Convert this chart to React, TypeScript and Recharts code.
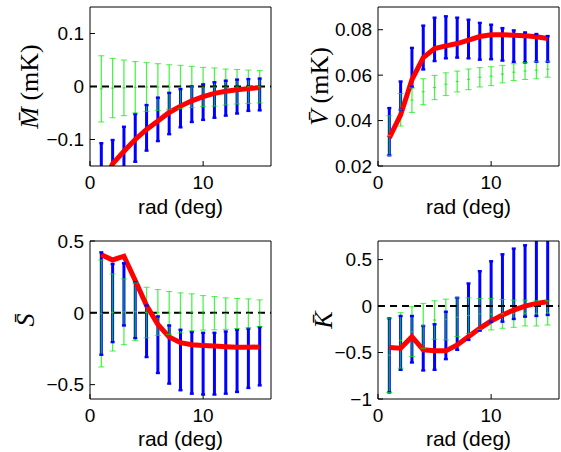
import React from "react";
import { ComposedChart, Line, XAxis, YAxis, ReferenceLine } from "recharts";

const rad = [1, 2, 3, 4, 5, 6, 7, 8, 9, 10, 11, 12, 13, 14, 15];
const xTicks = [0, 10];

// M (mK)
const mMean = [-0.19, -0.146, -0.122, -0.1, -0.081, -0.065, -0.049, -0.037, -0.027, -0.019, -0.013, -0.009, -0.006, -0.004, -0.002];
const mBlueHi = [-0.107, -0.101, -0.076, -0.052, -0.035, -0.021, -0.012, -0.005, 0.0, 0.004, 0.008, 0.011, 0.013, 0.014, 0.015];
const mBlueLo = [-0.2, -0.19, -0.16, -0.142, -0.121, -0.103, -0.09, -0.077, -0.067, -0.063, -0.059, -0.055, -0.051, -0.046, -0.045];
const mGreenHi = [0.058, 0.053, 0.05, 0.047, 0.045, 0.043, 0.041, 0.04, 0.038, 0.036, 0.035, 0.033, 0.032, 0.031, 0.03];
const mGreenLo = [-0.067, -0.059, -0.055, -0.05, -0.047, -0.045, -0.043, -0.042, -0.04, -0.038, -0.037, -0.035, -0.033, -0.032, -0.031];

// V (mK)
const vMean = [0.0324, 0.0425, 0.058, 0.0677, 0.0717, 0.0729, 0.0739, 0.0754, 0.077, 0.0778, 0.0778, 0.0776, 0.0773, 0.0769, 0.0761];
const vBlueHi = [0.0455, 0.0572, 0.072, 0.0818, 0.0853, 0.0859, 0.0853, 0.0844, 0.083, 0.0822, 0.0807, 0.0797, 0.0788, 0.0781, 0.0772];
const vBlueLo = [0.0247, 0.0447, 0.0548, 0.0625, 0.0662, 0.0674, 0.0677, 0.0674, 0.0668, 0.067, 0.0664, 0.0658, 0.0656, 0.0659, 0.0659];
const vGreenHi = [0.0421, 0.0519, 0.0544, 0.0584, 0.0599, 0.061, 0.0618, 0.0627, 0.0633, 0.0637, 0.0643, 0.065, 0.0655, 0.0659, 0.0661];
const vGreenLo = [0.0247, 0.0376, 0.0436, 0.047, 0.0492, 0.051, 0.0526, 0.0536, 0.0548, 0.0554, 0.0566, 0.0576, 0.0581, 0.0584, 0.0591];

// S
const sMean = [0.405, 0.368, 0.394, 0.225, 0.051, -0.081, -0.169, -0.208, -0.222, -0.227, -0.231, -0.236, -0.24, -0.24, -0.238];
const sBlueHi = [0.421, 0.34, 0.345, 0.213, 0.051, -0.025, -0.088, -0.118, -0.134, -0.139, -0.139, -0.13, -0.118, -0.111, -0.1];
const sBlueLo = [-0.292, -0.204, -0.088, -0.176, -0.308, -0.419, -0.493, -0.539, -0.563, -0.569, -0.569, -0.563, -0.551, -0.523, -0.505];
const sGreenHi = [0.368, 0.271, 0.236, 0.208, 0.178, 0.162, 0.148, 0.139, 0.132, 0.12, 0.113, 0.104, 0.1, 0.097, 0.09];
const sGreenLo = [-0.377, -0.266, -0.222, -0.192, -0.174, -0.157, -0.15, -0.14, -0.125, -0.12, -0.118, -0.115, -0.11, -0.105, -0.095];

// K
const kMean = [-0.446, -0.454, -0.329, -0.471, -0.482, -0.482, -0.418, -0.329, -0.239, -0.161, -0.096, -0.043, 0, 0.029, 0.046];
const kBlueHi = [-0.132, -0.107, -0.107, -0.214, -0.196, -0.061, 0.089, 0.243, 0.375, 0.482, 0.557, 0.618, 0.654, 0.72, 0.75];
const kBlueLo = [-0.929, -0.686, -0.607, -0.693, -0.686, -0.571, -0.471, -0.364, -0.264, -0.168, -0.168, -0.139, -0.114, -0.107, -0.096];
const kGreenHi = [-0.13, -0.071, -0.007, 0.029, 0.057, 0.075, 0.089, 0.089, 0.082, 0.082, 0.071, 0.064, 0.064, 0.057, 0.057];
const kGreenLo = [-0.93, -0.668, -0.543, -0.454, -0.357, -0.364, -0.329, -0.293, -0.25, -0.257, -0.239, -0.229, -0.214, -0.214, -0.204];

const BLUE = "#0000ff";
const GREEN = "#00ee00";
const RED = "#ff0000";
const SANS = "Liberation Sans, Arial, Helvetica, sans-serif";
const SERIF = "Liberation Serif, Times New Roman, serif";

const tickStyle = { fill: "#000", fontSize: 19, fontFamily: SANS };

const fmt = (v: number) => (v === 0 ? "0" : (v < 0 ? "\u2212" : "") + String(Math.abs(v)));

const meanRows = (mean: number[]) => rad.map((x, i) => ({ x, y: mean[i] }));

type BarStyle = { color: string; width: number; cap: number; mid: number; opacity: number };
const blueStyle: BarStyle = { color: BLUE, width: 3, cap: 2, mid: 0, opacity: 1 };
const greenStyle: BarStyle = { color: GREEN, width: 1.3, cap: 3, mid: 1.5, opacity: 0.7 };

// one vertical segment per radius, caps drawn as dots (skipped when off the axis)
function errorBars(id: string, lo: number[], hi: number[], s: BarStyle, domain: [number, number]) {
  const capDot = (props: any) => {
    const { cx, cy, index, payload } = props;
    const half = index === 1 ? s.mid : s.cap;
    if (payload.y < domain[0] || payload.y > domain[1] || half <= 0 || cx == null) {
      return <g key={`c${index}`} />;
    }
    return (
      <line
        key={`c${index}`}
        x1={cx - half}
        x2={cx + half}
        y1={cy}
        y2={cy}
        stroke={s.color}
        strokeOpacity={s.opacity}
        strokeWidth={index === 1 ? 1.2 : s.width * 0.8}
      />
    );
  };
  return rad.map((x, i) => (
    <Line
      key={`${id}${x}`}
      data={[
        { x, y: lo[i] },
        { x, y: (lo[i] + hi[i]) / 2 },
        { x, y: hi[i] },
      ]}
      dataKey="y"
      stroke={s.color}
      strokeOpacity={s.opacity}
      strokeWidth={s.width}
      dot={capDot}
      activeDot={false}
      type="linear"
      isAnimationActive={false}
    />
  ));
}

type PanelProps = {
  left: number;
  top: number;
  width: number;
  height: number;
  yWidth: number;
  rightW: number;
  topH: number;
  bottomH: number;
  xLabelOffset: number;
  domain: [number, number];
  yTicks: number[];
  mean: number[];
  blueLo: number[];
  blueHi: number[];
  greenLo: number[];
  greenHi: number[];
  zero: boolean;
  labelX: number;
  symbol: string;
  unit?: string;
};

function Panel(p: PanelProps) {
  const plotH = p.height - p.topH - p.bottomH;
  const cy = p.topH + plotH / 2;
  const yLabel = () => (
    <text
      x={p.labelX}
      y={cy}
      transform={`rotate(-90 ${p.labelX} ${cy})`}
      textAnchor="middle"
      dominantBaseline="central"
      fontFamily={SERIF}
      fontSize={26}
      fill="#000"
    >
      <tspan fontStyle="italic">{p.symbol + "\u0304"}</tspan>
      {p.unit ? <tspan>{" " + p.unit}</tspan> : null}
    </text>
  );
  return (
    <ComposedChart
      width={p.width}
      height={p.height}
      margin={{ top: 0, right: 0, bottom: 0, left: 0 }}
      style={{ position: "absolute", left: p.left, top: p.top }}
    >
      <XAxis
        type="number"
        dataKey="x"
        domain={[0, 16]}
        ticks={xTicks}
        allowDataOverflow
        interval={0}
        height={p.bottomH}
        tickSize={-5}
        tickMargin={15}
        tick={tickStyle}
        stroke="#000"
        label={{ value: "rad (deg)", position: "insideBottom", offset: p.xLabelOffset, fill: "#000", fontSize: 21, fontFamily: SANS }}
      />
      <XAxis
        xAxisId="t"
        orientation="top"
        type="number"
        dataKey="x"
        domain={[0, 16]}
        ticks={xTicks}
        allowDataOverflow
        height={p.topH}
        tickSize={-5}
        tick={false}
        stroke="#000"
      />
      <YAxis
        type="number"
        domain={p.domain}
        ticks={p.yTicks}
        allowDataOverflow
        interval={0}
        width={p.yWidth}
        tickSize={-5}
        tickMargin={11}
        tick={tickStyle}
        tickFormatter={fmt}
        stroke="#000"
        label={{ content: yLabel }}
      />
      <YAxis
        yAxisId="r"
        orientation="right"
        type="number"
        domain={p.domain}
        ticks={p.yTicks}
        allowDataOverflow
        width={p.rightW}
        tickSize={-5}
        tick={false}
        stroke="#000"
      />
      <Line
        data={meanRows(p.mean)}
        dataKey="y"
        xAxisId="t"
        yAxisId="r"
        stroke="none"
        dot={false}
        activeDot={false}
        isAnimationActive={false}
      />
      {errorBars("b", p.blueLo, p.blueHi, blueStyle, p.domain)}
      {errorBars("g", p.greenLo, p.greenHi, greenStyle, p.domain)}
      {p.zero ? (
        <ReferenceLine y={0} stroke="#000" strokeWidth={2} strokeDasharray="7 5" />
      ) : null}
      <Line
        data={meanRows(p.mean)}
        dataKey="y"
        stroke={RED}
        strokeWidth={5}
        dot={false}
        activeDot={false}
        type="linear"
        isAnimationActive={false}
      />
    </ComposedChart>
  );
}

export default function App() {
  return (
    <div style={{ position: "absolute", left: 0, top: 0, width: 561, height: 452, background: "#fff", overflow: "hidden" }}>
      <Panel
        left={0} top={0} width={280} height={226}
        yWidth={90} rightW={9} topH={7} bottomH={60} xLabelOffset={12}
        domain={[-0.15, 0.15]} yTicks={[-0.1, 0, 0.1]}
        mean={mMean} blueLo={mBlueLo} blueHi={mBlueHi} greenLo={mGreenLo} greenHi={mGreenHi}
        zero labelX={29} symbol="M" unit="(mK)"
      />
      <Panel
        left={290} top={0} width={271} height={226}
        yWidth={88} rightW={2} topH={7} bottomH={60} xLabelOffset={12}
        domain={[0.02, 0.09]} yTicks={[0.02, 0.04, 0.06, 0.08]}
        mean={vMean} blueLo={vBlueLo} blueHi={vBlueHi} greenLo={vGreenLo} greenHi={vGreenHi}
        zero={false} labelX={29} symbol="V" unit="(mK)"
      />
      <Panel
        left={0} top={226} width={280} height={226}
        yWidth={90} rightW={9} topH={15} bottomH={53} xLabelOffset={6}
        domain={[-0.6, 0.5]} yTicks={[-0.5, 0, 0.5]}
        mean={sMean} blueLo={sBlueLo} blueHi={sBlueHi} greenLo={sGreenLo} greenHi={sGreenHi}
        zero labelX={25} symbol="S"
      />
      <Panel
        left={290} top={226} width={271} height={226}
        yWidth={88} rightW={2} topH={15} bottomH={53} xLabelOffset={6}
        domain={[-1, 0.7]} yTicks={[-1, -0.5, 0, 0.5]}
        mean={kMean} blueLo={kBlueLo} blueHi={kBlueHi} greenLo={kGreenLo} greenHi={kGreenHi}
        zero labelX={33} symbol="K"
      />
    </div>
  );
}
